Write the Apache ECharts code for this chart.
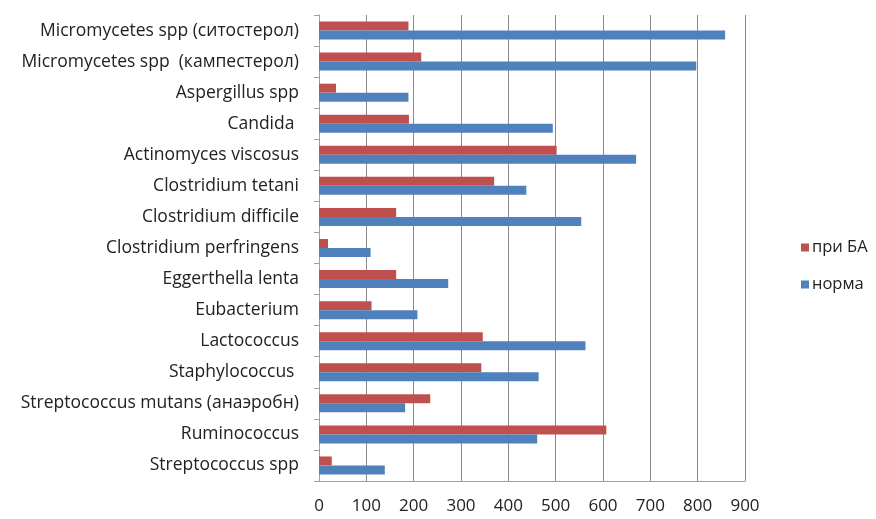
<!DOCTYPE html>
<html><head><meta charset="utf-8">
<script src="https://cdn.jsdelivr.net/npm/echarts@6/dist/echarts.min.js"></script>
<style>html,body{margin:0;padding:0;background:#fff}#c{width:876px;height:519px}</style>
</head><body><div id="c"></div>
<script>
const categories = [
  'Micromycetes spp (ситостерол)',
  'Micromycetes spp  (кампестерол)',
  'Aspergillus spp',
  'Candida ',
  'Actinomyces viscosus',
  'Clostridium tetani',
  'Clostridium difficile',
  'Clostridium perfringens',
  'Eggerthella lenta',
  'Eubacterium',
  'Lactococcus',
  'Staphylococcus ',
  'Streptococcus mutans (анаэробн)',
  'Ruminococcus',
  'Streptococcus spp'
];
const priBA = [189, 216, 36, 190, 502, 370, 163, 19, 163, 111, 346, 343, 235, 607, 27];
const norma = [858, 797, 189, 494, 670, 438, 554, 109, 273, 208, 563, 464, 182, 461, 139];
const xTicks = [0, 100, 200, 300, 400, 500, 600, 700, 800, 900];

const chart = echarts.init(document.getElementById('c'));
const font = '"Open Sans", "DejaVu Sans", sans-serif';
chart.setOption({
  animation: false,
  textStyle: {fontFamily: font},
  grid: {left: 319, right: 131, top: 15, bottom: 38, containLabel: false},
  legend: {
    orient: 'vertical', left: 796, top: 234, itemWidth: 8, itemHeight: 8, itemGap: 20,
    icon: 'rect',
    textStyle: {fontSize: 16.5, color: '#222', fontFamily: font, padding: [0,0,0,-2]},
    data: ['при БА', 'норма']
  },
  xAxis: {
    type: 'value', min: xTicks[0], max: xTicks[xTicks.length-1], interval: 100,
    axisLine: {show: true, lineStyle: {color: '#a0a0a0'}},
    axisTick: {show: false},
    axisLabel: {fontSize: 17, color: '#222', margin: 17, fontFamily: font},
    splitLine: {show: true, lineStyle: {color: '#8a8a8a', width: 1}}
  },
  yAxis: {
    type: 'category', data: categories, inverse: true,
    axisLine: {show: true, lineStyle: {color: '#a0a0a0'}},
    axisTick: {show: true, length: 5, lineStyle: {color: '#a0a0a0'}},
    axisLabel: {fontSize: 17.5, color: '#222', margin: 20, fontFamily: font}
  },
  series: [
    {name: 'при БА', type: 'bar', data: priBA, barWidth: 9, barGap: '0%',
     itemStyle: {color: '#C0504D'}},
    {name: 'норма', type: 'bar', data: norma, barWidth: 9, barGap: '0%',
     itemStyle: {color: '#4F81BD'}}
  ]
});
</script></body></html>
